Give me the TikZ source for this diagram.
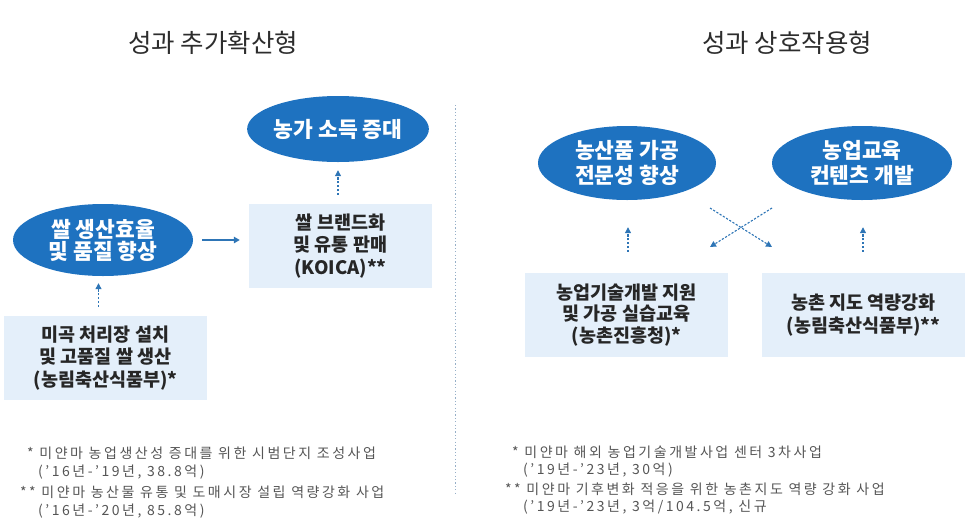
\documentclass[tikz,border=0pt]{standalone}
\usepackage{fontspec}
\setmainfont{Noto Sans CJK KR}
\usetikzlibrary{shapes.geometric,arrows.meta,calc}
\definecolor{ellblue}{RGB}{30,114,192}
\definecolor{boxblue}{RGB}{228,239,250}
\definecolor{arrblue}{RGB}{46,117,182}
\definecolor{titlegray}{RGB}{45,45,45}
\definecolor{notegray}{RGB}{85,85,85}
\definecolor{divgray}{RGB}{150,175,200}
\tikzset{
  goal/.style={ellipse, fill=ellblue, text=white, font=\bfseries\fontsize{21.5}{22}\selectfont, align=center, inner sep=0pt},
  proj/.style={rectangle, fill=boxblue, text=black!85, font=\bfseries\fontsize{18.5}{22.5}\selectfont, align=center, inner sep=0pt},
  ttl/.style={font=\fontsize{25.5}{28}\selectfont, text=titlegray, inner sep=0pt},
  note/.style={font=\fontsize{14}{19}\selectfont\addfontfeatures{LetterSpace=18}, text=notegray, anchor=west, inner sep=0pt},
  darr/.style={draw=arrblue, line width=1.1pt, dash pattern=on 2.2pt off 1.6pt, -{Triangle[width=6pt,length=6pt]}},
  sarr/.style={draw=arrblue, line width=1.3pt, -{Triangle[width=6.5pt,length=6pt]}}
}
\begin{document}
\begin{tikzpicture}[x=1pt,y=-1pt]
\useasboundingbox (0,0) rectangle (980,528);
% titles
\node[ttl] (t1) at (213,43) {성과 추가확산형};
\node[ttl] (t2) at (787,43) {성과 상호작용형};
% divider
\coordinate (d1) at (455,105);
\coordinate (d2) at (455,495);
\draw[divgray, line width=1pt, dash pattern=on 1.2pt off 2.2pt] (d1) -- (d2);
% left side
\node[goal, minimum width=180pt, minimum height=66pt] (e1) at (338,129) {농가 소득 증대};
\node[goal, minimum width=180pt, minimum height=72pt] (e2) at (103,240) {쌀 생산효율\\및 품질 향상};
\node[proj, minimum width=183pt, minimum height=84pt] (b1) at (340.5,246) {쌀 브랜드화\\및 유통 판매\\(KOICA)**};
\node[proj, minimum width=203pt, minimum height=84pt] (b2) at (105.5,358) {미곡 처리장 설치\\및 고품질 쌀 생산\\(농림축산식품부)*};
\draw[darr, shorten <=9pt, shorten >=8pt] (e1.south |- b1.north) -- (e1.south);
\draw[sarr, shorten <=9pt, shorten >=9pt] (e2.east) -- (e2.east -| b1.west);
\draw[darr, shorten <=9pt, shorten >=7pt] ([xshift=-7pt]b2.north) -- ([xshift=-7pt]b2.north |- e2.south);
% right side
\node[goal, minimum width=178pt, minimum height=74pt] (e3) at (627,163) {농산품 가공\\[3pt]전문성 향상};
\node[goal, minimum width=180pt, minimum height=74pt] (e4) at (862,163) {농업교육\\[3pt]컨텐츠 개발};
\node[proj, minimum width=203pt, minimum height=84pt] (b3) at (626.5,315) {농업기술개발 지원\\[-1pt]및 가공 실습교육\\[-1pt](농촌진흥청)*};
\node[proj, minimum width=203pt, minimum height=84pt] (b4) at (863.5,315) {농촌 지도 역량강화\\(농림축산식품부)**};
\draw[darr, shorten <=21pt, shorten >=27pt] ([xshift=1.5pt]b3.north) -- ([xshift=1.5pt]b3.north |- e3.south);
\draw[darr, shorten <=21pt, shorten >=27pt] ([xshift=-0.5pt]b4.north) -- ([xshift=-0.5pt]b4.north |- e4.south);
\coordinate (x1) at (710,208);
\coordinate (x2) at (772,247);
\coordinate (x3) at (772,208);
\coordinate (x4) at (710,247);
\draw[darr] (x1) -- (x2);
\draw[darr] (x3) -- (x4);
% footnotes
\node[note] (n1) at (27,453) {* 미얀마 농업생산성 증대를 위한 시범단지 조성사업};
\node[note] (n2) at (38,472) {('16년-'19년, 38.8억)};
\node[note] (n3) at (20,492) {** 미얀마 농산물 유통 및 도매시장 설립 역량강화 사업};
\node[note] (n4) at (38,511) {('16년-'20년, 85.8억)};
\node[note] (n5) at (512,452) {* 미얀마 해외 농업기술개발사업 센터 3차사업};
\node[note] (n6) at (523,470) {('19년-'23년, 30억)};
\node[note] (n7) at (505,489) {** 미얀마 기후변화 적응을 위한 농촌지도 역량 강화 사업};
\node[note] (n8) at (523,507) {('19년-'23년, 3억/104.5억, 신규};
\end{tikzpicture}
\end{document}
